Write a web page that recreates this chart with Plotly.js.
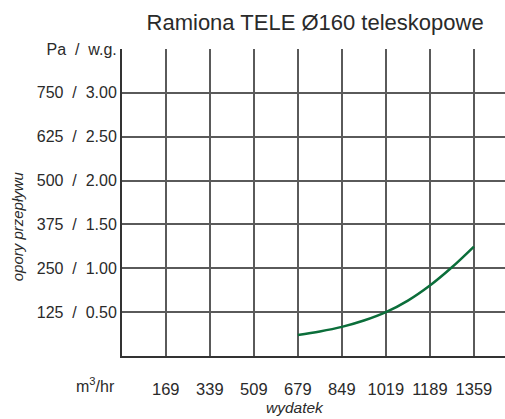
<!DOCTYPE html>
<html><head><meta charset="utf-8">
<script src="https://cdn.plot.ly/plotly-3.0.1.min.js"></script>
<style>html,body{margin:0;padding:0;background:#fff}#c{width:505px;height:419px}</style>
</head><body><div id="c"></div>
<script>
const flowValues = [679, 764, 849, 934, 1019, 1104, 1189, 1274, 1359];
const pressureValues = [60, 70, 83, 101, 125, 158, 201, 253, 312];
const xTickValues = [169, 339, 509, 679, 849, 1019, 1189, 1359];
const xTickLabels = ["169", "339", "509", "679", "849", "1019", "1189", "1359"];
const yTickValues = [125, 250, 375, 500, 625, 750, 875];
const yTickLabels = ["125 / 0.50", "250 / 1.00", "375 / 1.50", "500 / 2.00", "625 / 2.50", "750 / 3.00", "Pa / w.g."];

const nb = s => s.replace(/ \/ /g, "\u00a0\u00a0/\u00a0\u00a0");
const F = "Arial, 'Liberation Sans', sans-serif";
const C = "#2a2a2a";

Plotly.newPlot("c", [{
  x: flowValues, y: pressureValues, type: "scatter", mode: "lines",
  line: {color: "#0b6e3a", width: 2.5, shape: "spline"}, hoverinfo: "skip"
}], {
  width: 505, height: 419,
  margin: {l: 122, r: 0, t: 49, b: 63},
  paper_bgcolor: "#fff", plot_bgcolor: "#fff",
  showlegend: false,
  title: {text: "Ramiona TELE Ø160 teleskopowe", font: {family: F, size: 22, color: C}, x: 0.624, xanchor: "center", y: 0.947, yanchor: "middle"},
  xaxis: {range: [0, 1479], tickvals: xTickValues, ticktext: xTickLabels, tickmode: "array",
    showgrid: true, gridcolor: "#5a5a5a", gridwidth: 2, zeroline: false,
    showline: true, linecolor: "#333", linewidth: 2, ticks: "", ticklen: 0, ticklabelstandoff: 17,
    tickfont: {family: F, size: 16.5, color: C}, automargin: false, fixedrange: true},
  yaxis: {range: [0, 875], tickvals: yTickValues, ticktext: yTickLabels.map(nb), tickmode: "array",
    showgrid: true, gridcolor: "#5a5a5a", gridwidth: 2, zeroline: false,
    showline: true, linecolor: "#333", linewidth: 2, ticks: "", ticklen: 0,
    tickfont: {family: F, size: 16, color: C}, automargin: false, fixedrange: true},
  annotations: [
    {text: "m<sup>3</sup>/hr", xref: "paper", yref: "paper", x: -0.013, y: -0.094, xanchor: "right", yanchor: "middle", showarrow: false, font: {family: F, size: 16, color: C}},
    {text: "<i>wydatek</i>", xref: "paper", yref: "paper", x: 0.452, y: -0.169, xanchor: "center", yanchor: "middle", showarrow: false, font: {family: F, size: 15.5, color: C}},
    {text: "<i>opory przepływu</i>", xref: "paper", yref: "paper", x: -0.272, y: 0.422, xanchor: "center", yanchor: "middle", textangle: -90, showarrow: false, font: {family: F, size: 15, color: C}}
  ]
}, {staticPlot: true});
</script></body></html>
